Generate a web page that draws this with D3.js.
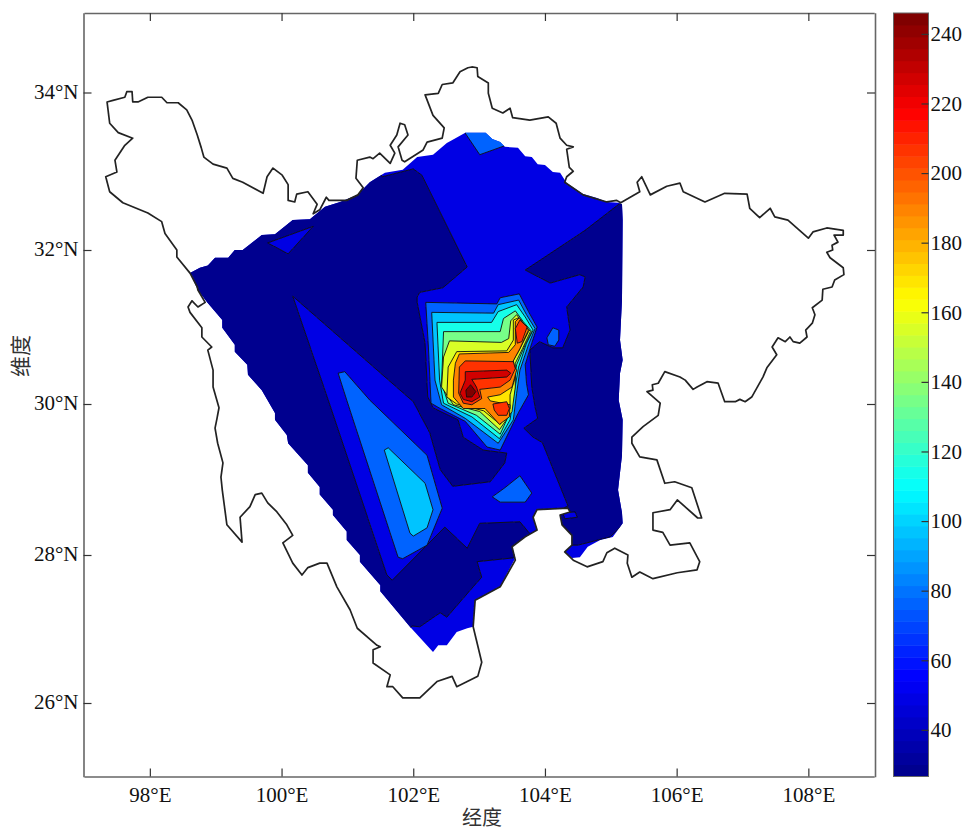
<!DOCTYPE html>
<html>
<head>
<meta charset="utf-8">
<script src="https://d3js.org/d3.v7.min.js"></script>
<style>
	html, body { margin: 0; padding: 0; background: #fff; }
	text { font-family: "Liberation Serif", serif; fill: #111; }
	.cjk { font-family: "Noto Sans CJK SC", sans-serif; fill: #333; }
</style>
</head>
<body>
<svg id="chart" width="967" height="831"></svg>
<script>
// ticks
const lonTicks = [98, 100, 102, 104, 106, 108];
const latTicks = [26, 28, 30, 32, 34];
const colorTicks = [40, 60, 80, 100, 120, 140, 160, 180, 200, 220, 240];
const colorDomain = [26.6, 246];
const jetStops = ["#00008f", "#0000ff", "#00ffff", "#ffff00", "#ff0000", "#800000"];
const bandCount = 64;

// province outline, lon/lat
const outline = [[97.35,33.88],[97.44,33.9],[97.62,33.94],[97.65,34.01],[97.73,34.01],[97.74,33.88],[97.82,33.88],[97.97,33.94],[98.18,33.94],[98.26,33.87],[98.43,33.87],[98.56,33.78],[98.64,33.65],[98.72,33.46],[98.78,33.3],[98.82,33.18],[98.96,33.09],[99.17,33.04],[99.26,32.91],[99.41,32.86],[99.72,32.72],[99.78,32.93],[99.87,33.04],[100.01,32.95],[100.1,32.83],[100.1,32.63],[100.2,32.61],[100.23,32.71],[100.4,32.74],[100.54,32.58],[100.48,32.46],[100.58,32.51],[100.68,32.67],[100.72,32.63],[100.99,32.63],[101.16,32.7],[101.24,32.79],[101.13,32.91],[101.15,33.14],[101.34,33.18],[101.39,33.16],[101.49,33.23],[101.65,33.1],[101.72,33.23],[101.65,33.33],[101.75,33.46],[101.8,33.61],[101.87,33.59],[101.92,33.46],[101.77,33.31],[101.83,33.14],[101.87,33.12],[102.15,33.27],[102.21,33.37],[102.44,33.42],[102.47,33.55],[102.3,33.71],[102.18,33.97],[102.38,33.99],[102.44,34.1],[102.6,34.12],[102.71,34.26],[102.83,34.31],[102.89,34.32],[102.97,34.31],[102.98,34.2],[103.14,34.12],[103.14,33.99],[103.2,33.8],[103.36,33.74],[103.47,33.8],[103.51,33.68],[103.77,33.65],[104.05,33.69],[104.17,33.61],[104.23,33.42],[104.33,33.33],[104.43,33.31],[104.33,33.28],[104.37,33.05],[104.43,33],[104.33,32.93],[104.3,32.86],[104.58,32.7],[104.94,32.61],[105.09,32.63],[105.15,32.6],[105.44,32.74],[105.4,32.86],[105.47,32.93],[105.6,32.7],[105.85,32.81],[106.05,32.85],[106.1,32.74],[106.43,32.61],[106.73,32.72],[107.07,32.71],[107.11,32.53],[107.26,32.41],[107.42,32.53],[107.49,32.42],[107.69,32.38],[108,32.15],[108.07,32.23],[108.28,32.28],[108.53,32.25],[108.53,32.19],[108.39,32.19],[108.45,32.1],[108.36,32.06],[108.37,32],[108.28,31.97],[108.33,31.9],[108.53,31.77],[108.54,31.68],[108.4,31.61],[108.36,31.52],[108.22,31.49],[108.21,31.35],[108.06,31.25],[108.1,31.16],[108.06,31.05],[107.96,30.96],[107.98,30.87],[107.87,30.79],[107.77,30.81],[107.72,30.87],[107.65,30.81],[107.54,30.86],[107.45,30.74],[107.52,30.64],[107.37,30.47],[107.31,30.35],[107.14,30.09],[107.04,30.03],[106.96,30.06],[106.89,30.03],[106.73,30.03],[106.63,30.27],[106.46,30.29],[106.31,30.22],[106.25,30.19],[106.13,30.31],[106.05,30.35],[105.82,30.42],[105.72,30.27],[105.63,30.25],[105.64,30.18],[105.55,30.16],[105.75,30.01],[105.72,29.85],[105.49,29.7],[105.32,29.56],[105.32,29.48],[105.44,29.3],[105.7,29.26],[105.82,28.95],[105.97,28.97],[106.23,28.89],[106.38,28.49],[106.32,28.49],[106.01,28.73],[105.9,28.6],[105.64,28.56],[105.64,28.33],[105.79,28.3],[105.9,28.13],[106.2,28.16],[106.35,27.91],[106.31,27.8],[106.01,27.76],[105.64,27.68],[105.44,27.77],[105.32,27.7],[105.25,27.89],[105.26,28],[105.06,28.09],[104.94,28.03],[104.88,27.91],[104.64,27.84],[104.43,27.93],[104.3,28.04],[104.41,28.13],[104.41,28.26],[104.26,28.4],[104.23,28.53],[104.38,28.57],[104.35,28.62],[103.88,28.6],[103.82,28.5],[103.88,28.33],[103.7,28.24],[103.5,28.11],[103.55,27.93],[103.32,27.57],[102.94,27.39],[102.91,27.03],[103.04,26.55],[102.98,26.36],[102.66,26.22],[102.59,26.36],[102.36,26.29],[102.1,26.07],[101.84,26.07],[101.69,26.22],[101.6,26.22],[101.65,26.38],[101.39,26.54],[101.39,26.72],[101.5,26.76],[101.45,26.78],[101.15,27.01],[101.04,27.26],[100.84,27.57],[100.69,27.89],[100.58,27.89],[100.4,27.83],[100.31,27.73],[100.17,27.89],[100.02,28.16],[100.17,28.26],[100.08,28.4],[99.93,28.57],[99.79,28.69],[99.7,28.82],[99.6,28.8],[99.52,28.64],[99.37,28.5],[99.4,28.17],[99.17,28.4],[99.1,28.86],[99.08,29.03],[99.11,29.22],[99.03,29.48],[98.99,29.68],[99.02,29.81],[99.05,29.95],[98.96,30.22],[98.96,30.44],[98.88,30.7],[98.94,30.74],[98.79,30.87],[98.79,30.99],[98.61,31.19],[98.58,31.26],[98.64,31.34],[98.73,31.26],[98.84,31.32],[98.73,31.48],[98.72,31.52],[98.61,31.7],[98.41,31.91],[98.41,32],[98.23,32.21],[98.18,32.36],[97.97,32.47],[97.59,32.6],[97.39,32.74],[97.33,32.93],[97.5,32.99],[97.47,33.14],[97.62,33.33],[97.74,33.42],[97.52,33.49],[97.39,33.61]];

// interpolated area with its stepped edge
const dataArea = [[98.61,31.7],[98.76,31.77],[98.88,31.8],[98.99,31.9],[99.19,31.9],[99.29,32],[99.41,32],[99.7,32.19],[99.9,32.2],[100.17,32.38],[100.43,32.39],[100.66,32.55],[100.89,32.61],[101.15,32.7],[101.34,32.86],[101.57,32.98],[101.84,33.02],[102.06,33.18],[102.3,33.21],[102.51,33.36],[102.6,33.4],[102.79,33.49],[103.1,33.49],[103.2,33.41],[103.32,33.37],[103.39,33.31],[103.59,33.3],[103.7,33.19],[103.8,33.18],[103.89,33.09],[104,33.08],[104.12,32.99],[104.23,32.98],[104.33,32.85],[104.58,32.71],[104.79,32.66],[104.94,32.61],[105.12,32.6],[105.17,32.58],[105.18,32.38],[105.17,31.35],[105.14,30.83],[105.18,30.57],[105.14,30.4],[105.12,30.05],[105.18,29.79],[105.17,29.32],[105.11,28.86],[105.17,28.56],[105.18,28.42],[105.03,28.24],[104.84,28.2],[104.65,28.11],[104.53,27.97],[104.41,27.96],[104.3,28.04],[104.41,28.13],[104.41,28.26],[104.26,28.4],[104.23,28.53],[104.38,28.57],[104.35,28.62],[103.88,28.6],[103.82,28.5],[103.88,28.33],[103.7,28.24],[103.5,28.11],[103.55,27.96],[103.32,27.57],[102.94,27.39],[102.91,27.03],[102.82,27.01],[102.66,26.96],[102.51,26.78],[102.38,26.78],[102.3,26.69],[101.95,27.03],[101.5,27.51],[101.5,27.59],[101.19,27.91],[101.19,28],[100.99,28.2],[100.99,28.31],[100.78,28.53],[100.78,28.6],[100.58,28.8],[100.58,28.9],[100.4,29.09],[100.4,29.19],[100.1,29.48],[100.08,29.59],[99.9,29.79],[99.9,29.88],[99.7,30.18],[99.49,30.38],[99.48,30.51],[99.29,30.68],[99.29,30.77],[99.1,30.99],[99.1,31.09],[98.87,31.32],[98.73,31.48]];

// contour regions, lon/lat
const navyWest = [[102,33.03],[102.13,32.95],[102.82,31.78],[102.45,31.51],[102.1,31.45],[102.06,31.39],[102.06,31.32],[102.18,30.79],[102.22,30.09],[102.3,29.95],[102.68,29.79],[102.76,29.56],[103.06,29.39],[103.42,29.35],[103.39,29.22],[103.17,28.97],[102.6,28.91],[102.41,29.13],[102.25,29.62],[102,30.03],[100.17,31.4],[100.71,30.05],[101.6,27.73],[101.68,27.66],[102.48,28.37],[102.82,28.09],[103.01,28.42],[103.62,28.44],[103.85,28.2],[103.51,27.96],[102.97,27.91],[103.04,27.7],[102.91,27.57],[102.51,27.16],[102.41,27.22],[102.1,27.03],[101.98,27.04],[101.8,26.85],[97.5,31.35],[98,32.8],[101.2,33.4],[101.53,32.93]];
const navyEast = [[105.29,32.63],[105.12,32.58],[104.61,32.25],[103.7,31.74],[104.08,31.57],[104.53,31.68],[104.61,31.65],[104.58,31.52],[104.33,31.26],[104.38,30.96],[104.27,30.73],[104.12,30.73],[103.92,30.81],[103.77,30.7],[103.8,30.22],[103.85,29.96],[103.89,29.81],[103.68,29.68],[103.82,29.56],[103.96,29.49],[104.35,28.65],[104.17,28.57],[104.23,28.33],[104.41,28.13],[104.5,28.13],[104.99,28.24],[105.18,28.4],[105.44,28.4]];
const bluePatchNorth = [[99.79,32.09],[100.48,32.3],[100.1,31.95]];
const bluePatchNotch = [[104.27,28.56],[104.46,28.57],[104.49,28.5],[104.3,28.48]];
const azureTop = [[102.76,33.52],[103.17,33.52],[103.41,33.33],[103.01,33.21]];
const azureEast = [[104.03,30.86],[104.12,30.99],[104.21,30.96],[104.21,30.83],[104.15,30.75],[104.05,30.77]];
const azureSouth = [[103.2,28.77],[103.39,28.89],[103.62,29.05],[103.8,28.82],[103.7,28.7],[103.32,28.7]];
const azureWedge = [[100.86,30.4],[100.96,30.42],[101.34,30.05],[102.21,29.32],[102.44,28.62],[102.21,28.13],[101.84,27.95],[101.77,27.97],[100.99,30.05]];
const skyWedge = [[101.56,29.39],[101.62,29.42],[102.18,28.95],[102.3,28.6],[102.21,28.36],[102,28.25],[101.95,28.29]];
const ring76 = [[102.19,31.32],[103.27,31.3],[103.32,31.38],[103.61,31.43],[103.75,31.2],[103.88,31],[103.8,30.79],[103.7,30.51],[103.72,30.27],[103.75,30.12],[103.6,29.89],[103.32,29.39],[103.12,29.43],[102.79,29.77],[102.41,29.94],[102.27,30.01],[102.23,30.74]];
const ring96 = [[102.28,31.19],[103.22,31.18],[103.29,31.29],[103.6,31.35],[103.72,31.16],[103.85,30.98],[103.75,30.77],[103.62,30.44],[103.57,30.14],[103.52,29.79],[103.29,29.48],[102.79,29.81],[102.43,29.99],[102.33,30.31]];
const ring114 = [[102.36,31.06],[103.19,31.06],[103.29,31.2],[103.57,31.29],[103.7,31.13],[103.82,30.96],[103.72,30.79],[103.6,30.48],[103.52,30.09],[103.47,29.79],[103.31,29.54],[102.89,29.83],[102.46,30.01],[102.4,30.31]];
const ring134 = [[102.46,30.94],[103.32,30.94],[103.37,31.11],[103.55,31.21],[103.67,31.07],[103.8,30.94],[103.7,30.77],[103.57,30.51],[103.5,30.14],[103.45,29.85],[103.32,29.6],[102.96,29.85],[102.53,30.01],[102.43,30.27]];
const ring154 = [[102.55,30.82],[103.34,30.8],[103.45,30.85],[103.48,31.08],[103.57,31.16],[103.63,31.09],[103.78,30.94],[103.66,30.72],[103.55,30.53],[103.55,30.22],[103.5,29.9],[103.31,29.66],[103.01,29.9],[102.61,29.99],[102.43,30.22],[102.46,30.61]];
const ring170 = [[102.66,30.68],[103.42,30.69],[103.52,30.83],[103.52,31.09],[103.6,31.12],[103.75,30.94],[103.61,30.7],[103.52,30.57],[103.55,30.35],[103.47,30.12],[103.47,29.94],[103.32,29.73],[103.07,29.91],[102.66,30],[102.51,30.09],[102.53,30.48]];
const ring190 = [[102.64,30.53],[102.7,30.65],[103.45,30.67],[103.55,30.77],[103.55,31.07],[103.61,31.12],[103.75,30.96],[103.62,30.72],[103.5,30.53],[103.57,30.44],[103.5,30.22],[103.32,30.12],[103.13,30.09],[103.17,30.04],[103.47,29.99],[103.46,29.83],[103.31,29.73],[103.09,29.94],[102.76,29.94],[102.61,30.09],[102.61,30.31]];
const ring206 = [[102.7,30.48],[102.79,30.56],[103.52,30.55],[103.55,30.46],[103.47,30.31],[103.32,30.22],[103.01,30.19],[103.04,30.07],[102.89,29.99],[102.76,30.01],[102.69,30.14]];
const peakNorth = [[103.55,30.98],[103.62,31.09],[103.73,31],[103.65,30.81],[103.58,30.79]];
const peakSouth = [[103.21,30],[103.42,30.03],[103.46,29.94],[103.42,29.85],[103.29,29.85],[103.23,29.92]];
const ring226 = [[102.79,30.42],[103.42,30.44],[103.48,30.4],[103.42,30.35],[102.89,30.32],[102.96,30.22],[103.01,30.09],[102.89,30.03],[102.76,30.06],[102.71,30.14],[102.79,30.31]];
const ring245 = [[102.8,30.18],[102.87,30.25],[102.95,30.16],[102.89,30.09],[102.81,30.09]];

// level of each region, painted in this order
const regions = [
	{ value: 30, pts: navyWest }, { value: 30, pts: navyEast },
	{ value: 50, pts: bluePatchNorth }, { value: 50, pts: bluePatchNotch },
	{ value: 76, pts: azureTop }, { value: 76, pts: azureEast }, { value: 76, pts: azureSouth }, { value: 76, pts: azureWedge },
	{ value: 96, pts: skyWedge },
	{ value: 76, pts: ring76 }, { value: 96, pts: ring96 }, { value: 114, pts: ring114 }, { value: 134, pts: ring134 },
	{ value: 154, pts: ring154 }, { value: 170, pts: ring170 }, { value: 190, pts: ring190 },
	{ value: 206, pts: ring206 }, { value: 206, pts: peakNorth }, { value: 206, pts: peakSouth },
	{ value: 226, pts: ring226 }, { value: 245, pts: ring245 }
];

const svg = d3.select("#chart");
const frame = { left: 83.5, right: 875, top: 13, bottom: 776.5 };
const bar = { left: 893.5, right: 928.5 };

const x = d3.scaleLinear().domain([97, 109]).range([84, 874.2]);
// the map is Mercator, so latitude spacing is not even
const y = d3.scaleLinear().domain([25, 26, 28, 30, 32, 34, 35]).range([776.7, 703, 555, 404, 250, 92.5, 12.7]);
const barY = d3.scaleLinear().domain(colorDomain).range([frame.bottom, frame.top]);

const jet = d3.scaleLinear().domain([0, 1/8, 3/8, 5/8, 7/8, 1]).range(jetStops);
const color = d3.scaleQuantize().domain(colorDomain).range(d3.quantize(t => jet(t), bandCount));

const line = d3.line().x(d => x(d[0])).y(d => y(d[1])).curve(d3.curveLinearClosed);

const defs = svg.append("defs");
defs.append("clipPath").attr("id", "area-clip").append("path").attr("d", line(dataArea));
defs.append("filter").attr("id", "soft")
	.attr("filterUnits", "userSpaceOnUse")
	.attr("x", 0).attr("y", 0).attr("width", 967).attr("height", 831)
	.append("feGaussianBlur").attr("stdDeviation", 0.6);

const map = svg.append("g").attr("filter", "url(#soft)");

map.append("path")
	.attr("d", line(dataArea))
	.attr("fill", color(50));

map.append("g")
	.attr("clip-path", "url(#area-clip)")
	.selectAll("path")
	.data(regions)
	.join("path")
	.attr("d", d => line(d.pts))
	.attr("fill", d => color(d.value))
	.attr("stroke", "#111")
	.attr("stroke-width", 0.9)
	.attr("stroke-linejoin", "round");

map.append("path")
	.attr("d", line(outline))
	.attr("fill", "none")
	.attr("stroke", "#222")
	.attr("stroke-width", 1.7)
	.attr("stroke-linejoin", "round");

// axes, ticks point inward
function styleAxis(g) {
	g.selectAll(".domain").attr("stroke", "#666").attr("stroke-width", 1.6);
	g.selectAll(".tick line").attr("stroke", "#333").attr("stroke-width", 1.2);
	g.selectAll(".tick text").attr("font-size", 21).attr("font-family", "Liberation Serif").attr("fill", "#111");
}

svg.append("g").attr("transform", `translate(0,${frame.bottom})`)
	.call(d3.axisBottom(x).tickValues(lonTicks).tickSizeInner(-8).tickSizeOuter(0).tickPadding(11).tickFormat(d => d + "°E"))
	.call(styleAxis);
svg.append("g").attr("transform", `translate(0,${frame.top})`)
	.call(d3.axisTop(x).tickValues(lonTicks).tickSizeInner(-8).tickSizeOuter(0).tickFormat(""))
	.call(styleAxis);
svg.append("g").attr("transform", `translate(${frame.left},0)`)
	.call(d3.axisLeft(y).tickValues(latTicks).tickSizeInner(-8).tickSizeOuter(0).tickPadding(5).tickFormat(d => d + "°N"))
	.call(styleAxis)
	.call(g => g.selectAll(".tick text").attr("dy", "0.27em"));
svg.append("g").attr("transform", `translate(${frame.right},0)`)
	.call(d3.axisRight(y).tickValues(latTicks).tickSizeInner(-8).tickSizeOuter(0).tickFormat(""))
	.call(styleAxis);

// colorbar
const bandStep = (colorDomain[1] - colorDomain[0]) / bandCount;
svg.append("g").selectAll("rect")
	.data(d3.range(bandCount))
	.join("rect")
	.attr("x", bar.left)
	.attr("width", bar.right - bar.left)
	.attr("y", i => barY(colorDomain[0] + (i + 1) * bandStep))
	.attr("height", i => barY(colorDomain[0] + i * bandStep) - barY(colorDomain[0] + (i + 1) * bandStep) + 0.5)
	.attr("fill", i => color(colorDomain[0] + (i + 0.5) * bandStep));

svg.append("rect")
	.attr("x", bar.left).attr("y", frame.top)
	.attr("width", bar.right - bar.left).attr("height", frame.bottom - frame.top)
	.attr("fill", "none").attr("stroke", "#666").attr("stroke-width", 1);

svg.append("g").attr("transform", `translate(${bar.right},0)`)
	.call(d3.axisRight(barY).tickValues(colorTicks).tickSizeInner(-7).tickSizeOuter(0).tickPadding(2))
	.call(styleAxis)
	.call(g => g.select(".domain").remove());

// axis titles
svg.append("text").attr("class", "cjk")
	.attr("x", 482).attr("y", 825).attr("text-anchor", "middle").attr("font-size", 20)
	.text("经度");
svg.append("text").attr("class", "cjk")
	.attr("transform", "translate(28,356) rotate(-90)").attr("text-anchor", "middle").attr("font-size", 21)
	.text("维度");
</script>
</body>
</html>
